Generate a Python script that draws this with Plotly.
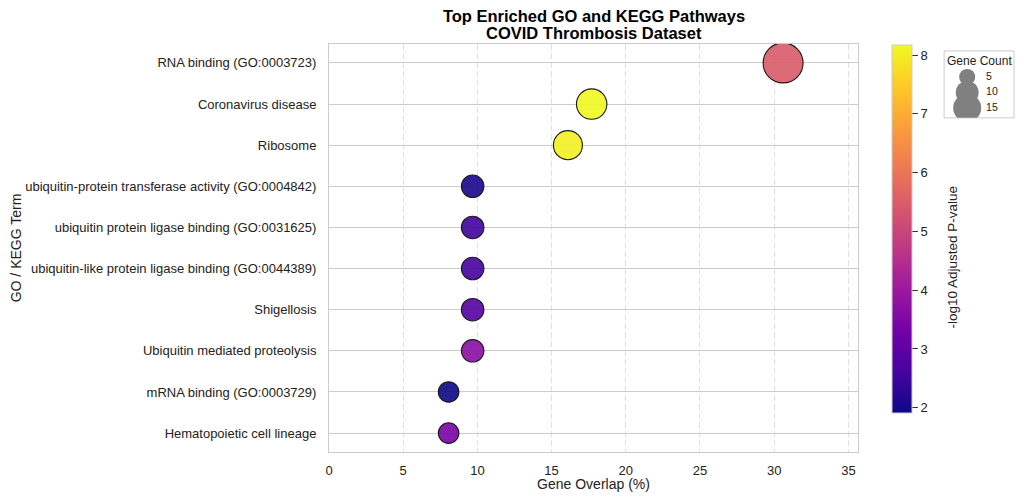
import plotly.graph_objects as go

terms = ['RNA binding (GO:0003723)', 'Coronavirus disease', 'Ribosome',
         'ubiquitin-protein transferase activity (GO:0004842)',
         'ubiquitin protein ligase binding (GO:0031625)',
         'ubiquitin-like protein ligase binding (GO:0044389)',
         'Shigellosis', 'Ubiquitin mediated proteolysis',
         'mRNA binding (GO:0003729)', 'Hematopoietic cell lineage']
overlap = [30.6, 17.7, 16.1, 9.68, 9.68, 9.68, 9.68, 9.68, 8.06, 8.06]
gene_count = [19, 11, 10, 6, 6, 6, 6, 6, 5, 5]
neglog_p = [5.45, 8.17, 8.05, 2.05, 2.55, 2.6, 2.85, 3.7, 1.91, 3.4]
legend_counts = [5, 10, 15]

font = 'Liberation Sans, Arial, sans-serif'
sizeref = 2 * max(gene_count) / 40 ** 2
grid = '#cccccc'

# page body has an 8px margin, so the figure is 1008x484 to fill the window
W, H = 1008, 484
title_x = 586 / W

fig = go.Figure()
fig.add_trace(go.Scatter(
    x=overlap, y=terms, mode='markers',
    marker=dict(size=gene_count, sizemode='area', sizeref=sizeref,
                color=neglog_p, colorscale='Plasma',
                cmin=min(neglog_p), cmax=max(neglog_p), opacity=0.9,
                line=dict(color='black', width=1.1),
                colorbar=dict(
                    x=0.822, xanchor='left', y=0.9975, yanchor='top',
                    xpad=0, ypad=0,
                    len=0.902, lenmode='fraction', thickness=20,
                    outlinecolor=grid, outlinewidth=1,
                    ticks='outside', ticklen=6, tickcolor='#333',
                    tickvals=[2, 3, 4, 5, 6, 7, 8],
                    tickfont=dict(size=13, color='#222'))),
    showlegend=False, hoverinfo='x+y'))

# size key drawn on its own small axes
fig.add_trace(go.Scatter(
    x=[0.33] * len(legend_counts), y=legend_counts, mode='markers',
    marker=dict(size=legend_counts, sizemode='area',
                sizeref=2 * max(legend_counts) / 28 ** 2, color='#808080',
                opacity=1, line=dict(width=0)),
    xaxis='x2', yaxis='y2', showlegend=False, hoverinfo='skip'))
fig.add_trace(go.Scatter(
    x=[0.6] * len(legend_counts), y=legend_counts, mode='text',
    text=[str(c) for c in legend_counts], textposition='middle right',
    textfont=dict(size=10.5, color='#222'),
    xaxis='x2', yaxis='y2', showlegend=False, hoverinfo='skip'))

fig.update_layout(
    width=W, height=H,
    margin=dict(l=321, r=2, t=36, b=40),
    paper_bgcolor='white', plot_bgcolor='white',
    font=dict(family=font, size=13, color='#222'),
    title=dict(text='<b>Top Enriched GO and KEGG Pathways</b>',
               x=title_x, xanchor='center',
               y=1 - 8 / H, yanchor='middle', yref='container',
               font=dict(size=16.5, color='black')),
    xaxis=dict(domain=[0, 0.7723], range=[0, 35.65], tickvals=[0, 5, 10, 15, 20, 25, 30, 35],
               showgrid=True, gridcolor='#e0e0e0', griddash='6px,3px', gridwidth=1,
               zeroline=False, showline=True, mirror=True, linecolor=grid, linewidth=1,
               ticks='', ticklabelstandoff=6, tickfont=dict(size=13),
               title=dict(text='Gene Overlap (%)', font=dict(size=14), standoff=4)),
    yaxis=dict(categoryorder='array', categoryarray=terms, range=[9.46, -0.46],
               showgrid=True, gridcolor=grid, gridwidth=1,
               zeroline=False, showline=True, mirror=True, linecolor=grid, linewidth=1,
               ticks='', ticklabelstandoff=9, tickfont=dict(size=13),
               title=dict(text='GO / KEGG Term', font=dict(size=14), standoff=6)),
    xaxis2=dict(domain=[0.898, 1.0], range=[0, 1], visible=False, anchor='y2'),
    yaxis2=dict(domain=[0.819, 0.983], range=[18.2, -3.4], visible=False, anchor='x2'),
    shapes=[dict(type='rect', xref='x2 domain', yref='y2 domain', x0=0, x1=1, y0=0, y1=1,
                 line=dict(color=grid, width=1), fillcolor='white', layer='below')],
    annotations=[
        dict(text='<b>COVID Thrombosis Dataset</b>', xref='paper', yref='paper',
             x=(title_x * W - 321) / 685, y=1 + 11 / 408, xanchor='center', yanchor='middle',
             showarrow=False, font=dict(size=16.5, color='black')),
        dict(text='-log10 Adjusted P-value', xref='paper', yref='paper',
             x=(944 - 321) / 685, y=(444 - 249.5) / 408, xanchor='center', yanchor='middle',
             textangle=-90, showarrow=False, font=dict(size=13.5, color='#222')),
        dict(text='Gene Count', xref='x2 domain', yref='y2 domain', x=0.5, y=0.98,
             xanchor='center', yanchor='top', showarrow=False,
             font=dict(size=12, color='#222'))],
)

fig.write_html("out.html")
